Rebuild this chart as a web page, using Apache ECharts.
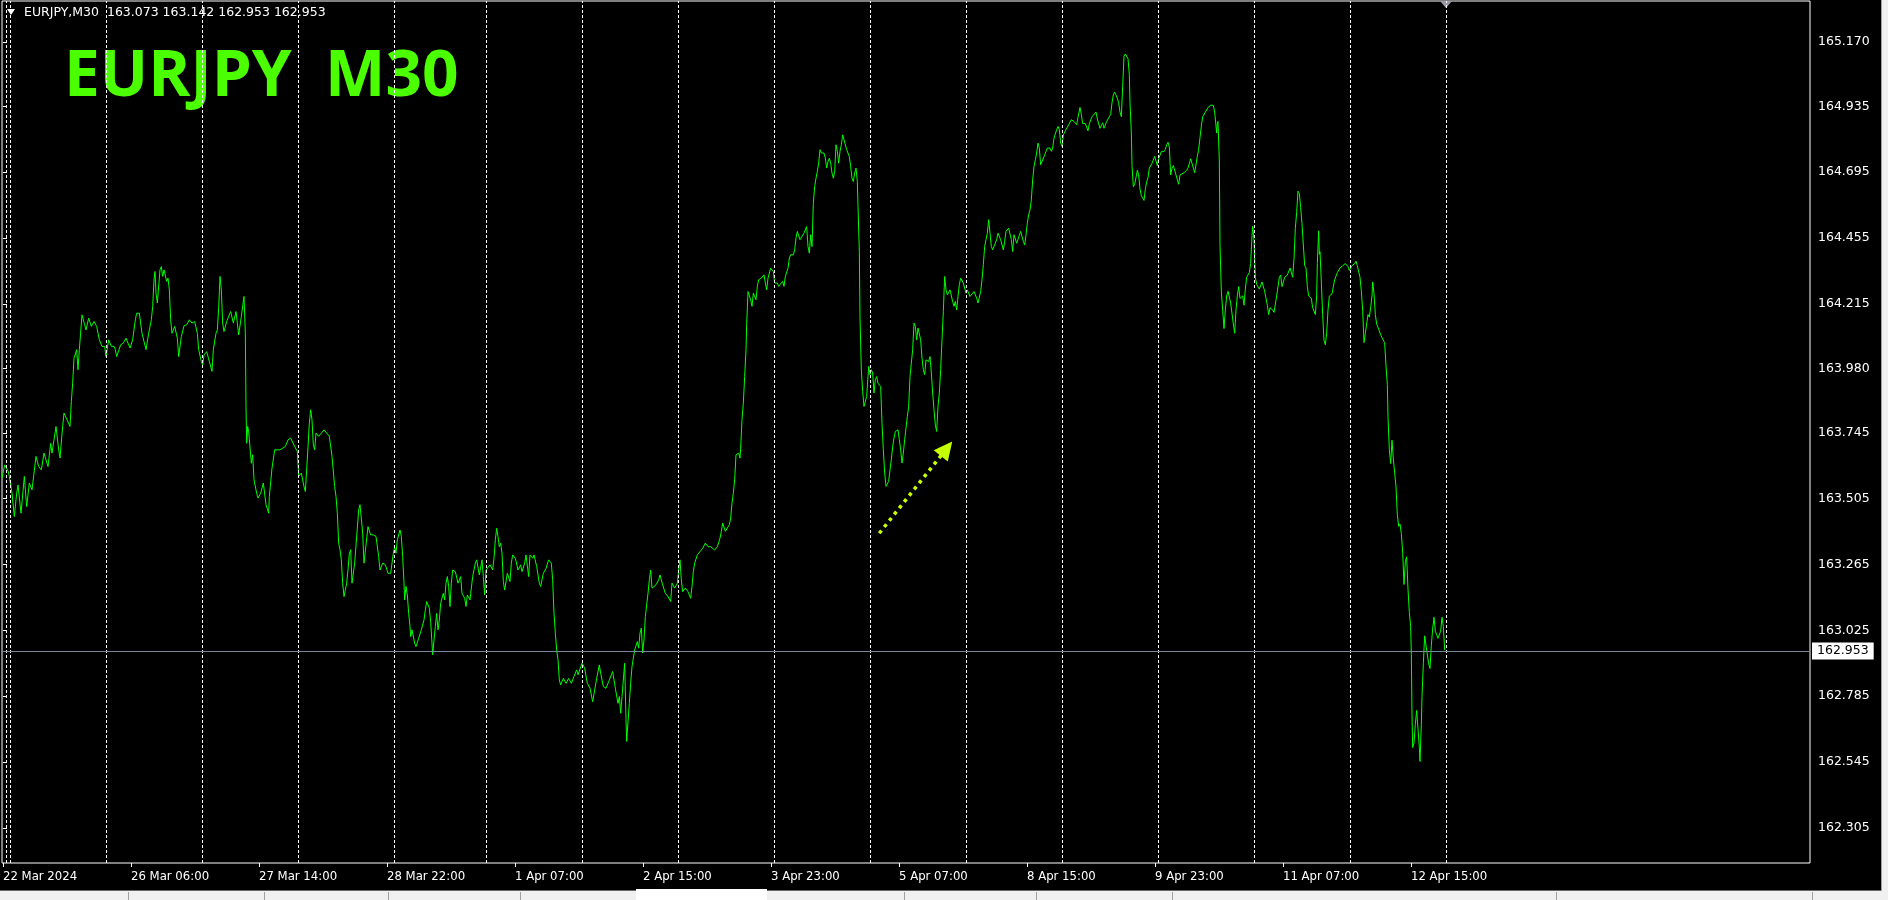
<!DOCTYPE html>
<html>
<head>
<meta charset="utf-8">
<script src="https://cdn.jsdelivr.net/npm/echarts@6/dist/echarts.min.js"></script>
<style>
html,body{margin:0;padding:0;background:#000;}
#c{width:1888px;height:900px;}
</style>
</head>
<body>
<div id="c"></div>
<script>
// ---- data ----
const symbolTitle = 'EURJPY  M30';
const headerText = 'EURJPY,M30  163.073 163.142 162.953 162.953';
const lastPrice = 162.953;

const xLabels = ['22 Mar 2024','26 Mar 06:00','27 Mar 14:00','28 Mar 22:00','1 Apr 07:00','2 Apr 15:00','3 Apr 23:00','5 Apr 07:00','8 Apr 15:00','9 Apr 23:00','11 Apr 07:00','12 Apr 15:00'];
const xLabelBars = [0,64,128,192,256,320,384,448,512,576,640,704];
const yTicks = [165.170,164.935,164.695,164.455,164.215,163.980,163.745,163.505,163.265,163.025,162.785,162.545,162.305];
const separatorBars = [1.75,3.75,51.75,99.75,147.75,195.75,241.75,289.75,337.75,385.75,433.75,481.75,529.75,577.75,625.75,673.75,721.75];
const arrowFrom = [438.15, 163.379];
const arrowTo = [471.75, 163.687];

// bar index (M30 bars from chart start) and close price
const bars = [
-0.5,0.83,2.67,3.17,4.5,5.67,6.83,7.5,9,10.67,11.83,13.17,14.5,16.5,17.83,19.17,20.5,22.5,23.83,24.5,
26.5,27.83,28.5,29.83,30.5,33.5,34.17,34.83,35.5,36.83,37.5,38.17,39.5,40.83,41.5,42.83,44.17,45.5,46.83,48.17,
49.5,50.83,51.5,52.83,54.17,55.5,56.17,56.83,58.83,60.17,61.5,63.5,64.83,66.17,66.83,68.17,69.5,71.5,72.83,74.17,
74.83,75.5,76,76.5,77.17,78.5,79.17,79.83,80.5,81.83,82.5,83.17,83.83,84.5,85.83,87.17,87.83,89.17,90.5,91.83,
93.17,94.5,95.83,97.17,97.83,99.17,99.83,100.5,101.83,103.17,104.5,105.17,106.5,107.17,107.83,108.5,109.17,109.83,110.5,111.83,
113.83,115.17,116.5,117.83,119.17,120.5,121.17,121.5,121.83,122.33,122.83,124.17,124.83,125.5,126.83,127.5,128.83,130.17,130.83,131.5,
132.83,133.17,134.5,135.83,137.17,138.5,139.83,141.17,142.5,143.83,144.5,145.83,147.17,147.83,149.17,150.5,151.17,151.83,152.5,153.17,
153.83,154.5,155.17,155.83,156.5,157.83,159.17,160.5,161.83,163.17,164.5,165.83,166.5,167.17,167.83,168.5,169.17,169.83,170.5,171.83,
172.5,173.17,173.83,174.5,175.83,177.17,177.83,178.5,
179.83,180.5,181.17,182.5,183.83,185.17,186.5,187.83,188.5,189.83,191.17,192.5,193.83,195.17,195.83,196.5,197.17,198.5,199.17,199.83,
200.5,200.83,201.5,202.17,202.83,203.5,203.83,204.5,205.83,206.5,207.83,209.17,210.5,211.17,211.83,213.17,213.83,214.5,214.83,215.5,
216.17,216.83,217.5,218.17,218.83,220.17,220.83,221.5,222.17,222.83,223.5,224.17,224.83,226.17,227.5,228.83,229.5,230.83,231.5,232.17,
233.5,234.83,236.17,236.83,238.17,239.5,240.17,240.83,241.5,243.5,244.83,245.5,246.17,246.83,247.5,248.17,248.83,249.5,250.17,250.83,
252.17,253.5,254.17,254.83,256.17,257.5,258.83,259.5,260.83,261.5,262.83,263.5,264.83,265.5,266.83,268.17,268.83,270.17,271.5,272.83,
274.17,274.83,275.5,276.17,276.83,277.5,278.17,278.83,280.17,281.5,282.83,284.17,285.5,286.83,287.5,289.5,290.83,292.17,293.5,294.83,
295.5,296.83,298.17,298.83,300.17,301.5,302.83,304.17,304.83,306.17,307.5,308.17,308.83,309.5,310.83,311.5,311.83,312.5,313.17,313.83,
314.5,315.83,317.17,317.83,318.5,319.17,319.83,320.5,321.17,322.5,323.17,323.83,324.5,326.5,327.83,328.5,329.83,331.17,332.5,333.83,
334.5,335.83,337.17,337.83,338.5,339.17,339.83,341.17,342.5,343.83,344.5,345.17,345.83,347.17,348.5,349.83,351.17,351.83,352.5,353.83,
354.5,355.83,357.17,357.83,358.5,359.17,359.83,361.17,361.83,363.17,363.83,
364.5,365.17,365.83,366.5,367.83,368.5,368.83,369.5,370.17,370.83,371.5,371.83,372.5,373.83,374.5,375.17,376.5,377.17,377.83,379.17,
380.5,381.17,381.83,382.5,383.83,384.5,385.17,385.83,387.17,387.83,389.83,390.5,391.17,392.5,393.17,393.83,395.17,395.83,396.5,397.17,
398.5,399.17,400.5,401.83,402.5,403.17,403.83,404.5,405.17,405.83,406.5,407.17,407.83,408.5,409.17,409.83,410.5,411.17,411.83,412.5,
413.17,413.83,414.5,415.17,415.83,416.5,417.17,417.83,418.5,419.17,419.83,420.5,421.83,423.17,423.83,424.5,425.17,425.83,426.5,427.17,
427.5,428.17,428.5,429.17,429.83,430.5,431.17,431.83,432.5,432.83,433.5,434.17,434.83,435.5,436.17,436.83,437.5,438.17,438.83,439.5,
440.17,440.83,441.5,442.17,442.83,443.5,444.17,444.83,445.5,446.17,447.5,448.17,448.83,449.5,450.17,450.83,451.5,452.17,452.83,453.5,
454.17,454.83,455.5,456.17,456.83,457.5,458.17,458.83,459.5,460.17,460.83,461.5,462.17,462.83,463.5,464.17,464.83,465.5,466.17,466.83,
467.5,468.17,468.83,469.5,470.17,470.83,471.5,472.17,473.5,474.83,475.5,476.17,476.83,477.5,478.17,478.83,480.17,481.5,482.17,483.5,
485.5,486.83,487.5,488.17,488.83,489.5,490.17,490.83,491.5,492.17,492.83,493.5,494.17,494.83,495.5,496.83,497.5,498.83,500.17,500.83,
501.5,502.83,504.17,504.83,505.5,506.83,508.83,510.17,510.83,511.5,512.17,512.83,513.5,514.17,514.83,515.5,516.17,516.83,517.5,518.17,
518.83,519.5,520.83,522.17,523.5,524.17,524.83,525.5,526.83,527.5,528.17,528.83,529.5,530.17,531.5,532.83,534.17,535.5,536.83,537.5,
538.5,539.17,539.83,541.17,542.5,543.17,544.5,546.5,547.17,548.5,549.83,550.5,551.83,553.17,553.83,554.5,555.17,555.83,557.17,557.83,
558.5,559.17,559.83,560.5,561.17,561.83,562.5,563.17,563.5,564.17,564.5,565.17,565.83,566.5,567.17,567.83,568.5,569.17,570.5,571.17,
571.83,572.5,573.17,574.5,575.83,576.5,577.17,577.83,579.17,580.5,581.17,581.83,582.5,583.17,583.83,584.5,585.17,586.5,587.83,588.5,
590.5,591.83,592.5,593.83,595.17,595.83,597.17,597.83,598.5,599.17,599.83,601.17,602.5,603.83,604.5,605.17,605.83,606.5,606.83,607.17,
607.5,608.17,608.5,609.17,609.83,610.5,611.17,611.83,612.5,613.83,615.17,615.83,616.5,617.17,617.83,618.5,619.83,620.5,621.17,621.83,
623.17,623.83,624.5,624.83,625.5,626.17,626.83,628.17,629.5,630.83,632.17,632.83,633.5,634.83,635.5,636.83,638.17,638.83,639.5,640.83,
642.17,643.5,644.17,644.83,645.5,646.17,646.83,647.5,648.17,648.83,649.5,650.17,650.83,651.5,652.17,652.83,654.17,654.83,656.17,656.83,
657.17,657.83,658.17,658.5,659.17,659.83,660.5,661.17,661.83,662.5,663.17,664.5,665.83,667.17,668.5,669.83,671.17,672.5,673.17,674.5,
675.83,676.5,677.17,678.5,679.17,679.83,680.5,681.17,682.5,683.17,683.83,684.5,684.83,685.5,686.17,686.83,688.17,689.5,690.83,691.5,
692.17,692.5,693.17,693.83,694.5,695.17,695.83,696.5,697.17,697.83,698.5,699.17,699.83,700.5,701.17,701.83,702.5,703.17,703.83,704.17,
704.5,704.83,705.5,706.17,706.83,707.5,708.17,708.5,709.17,709.5,710.17,710.83,711.5,712.83,713.5,714.17,714.83,715.5,716.17,717.5,
718.83,719.5,720.17,720.83
];
const closes = [
163.580,163.628,163.604,163.586,163.525,163.440,163.525,163.555,163.452,163.586,163.476,163.562,163.537,163.659,163.622,163.610,163.671,163.622,163.707,163.671,
163.768,163.683,163.653,163.768,163.817,163.768,163.859,163.926,164.017,164.048,163.975,164.048,164.175,164.139,164.120,164.163,164.133,164.151,164.133,164.084,
164.060,164.060,164.023,164.084,164.060,164.060,164.048,164.023,164.066,164.072,164.090,164.054,164.084,164.157,164.181,164.181,164.108,164.048,164.108,164.157,
164.205,164.303,164.333,164.254,164.218,164.339,164.351,164.315,164.339,164.297,164.309,164.266,164.157,164.108,164.133,164.090,164.023,164.096,164.135,164.139,
164.157,164.145,164.151,164.108,164.048,164.005,163.993,164.029,164.041,164.005,163.969,164.048,164.108,164.120,164.199,164.315,164.266,164.145,164.114,164.151,
164.187,164.145,164.187,164.102,164.169,164.242,164.108,163.841,163.707,163.768,163.750,163.634,163.665,163.574,163.525,163.507,163.525,163.562,163.568,163.483,
163.452,163.513,163.616,163.683,163.683,163.683,163.689,163.695,163.719,163.726,163.732,163.695,163.677,163.586,163.598,163.549,163.531,163.610,163.695,163.780,
163.829,163.792,163.701,163.683,163.744,163.732,163.744,163.756,163.744,163.732,163.659,163.549,163.513,163.452,163.343,163.319,163.282,163.197,163.148,163.197,
163.246,163.306,163.319,163.197,163.270,163.398,163.464,163.483,
163.380,163.270,163.270,163.403,163.373,163.373,163.367,163.294,163.245,163.270,163.264,163.233,163.233,163.306,163.330,163.306,163.355,163.391,163.367,163.294,
163.197,163.136,163.185,163.154,163.087,163.039,163.002,163.027,162.978,162.966,162.996,163.027,163.063,163.100,163.130,163.106,163.057,162.978,162.936,162.990,
163.039,163.087,163.027,163.063,163.124,163.160,163.136,163.197,163.221,163.185,163.112,163.197,163.245,163.239,163.197,163.221,163.160,163.142,163.112,163.154,
163.136,163.221,163.270,163.282,163.227,163.282,163.221,163.154,163.245,163.264,163.245,163.288,163.355,163.397,163.367,163.330,163.343,163.306,163.203,163.172,
163.233,163.203,163.270,163.300,163.288,163.245,163.264,163.239,163.270,163.300,163.221,163.300,163.288,163.300,163.258,163.197,163.185,163.233,163.251,163.282,
163.270,163.209,163.087,163.015,162.954,162.917,162.844,162.826,162.850,162.832,162.850,162.832,162.857,162.881,162.863,162.905,162.887,162.832,162.814,162.765,
162.759,162.850,162.899,162.869,162.820,162.814,162.838,162.863,162.875,162.814,162.759,162.784,162.723,162.784,162.905,162.699,162.620,162.693,162.759,162.832,
162.893,162.954,162.984,162.960,163.015,163.033,162.942,162.990,163.075,163.160,163.209,163.245,163.179,163.191,163.209,163.227,163.191,163.160,163.148,163.130,
163.197,163.179,163.197,163.245,163.282,163.209,163.166,163.179,163.166,163.142,163.185,163.239,163.270,163.300,163.312,163.324,163.343,163.349,163.330,163.330,
163.336,163.318,163.330,163.336,163.361,163.385,163.416,163.386,163.379,163.410,163.434,
163.489,163.525,163.574,163.665,163.671,163.653,163.689,163.793,163.853,163.950,164.048,164.139,164.260,164.230,164.206,164.254,164.230,164.279,164.303,164.309,
164.321,164.291,164.266,164.309,164.345,164.351,164.333,164.291,164.291,164.279,164.297,164.279,164.315,164.345,164.382,164.394,164.394,164.412,164.455,164.479,
164.449,164.443,164.473,164.497,164.424,164.400,164.467,164.424,164.582,164.643,164.673,164.698,164.728,164.777,164.765,164.758,164.765,164.746,164.710,164.734,
164.746,164.728,164.692,164.673,164.698,164.795,164.771,164.728,164.771,164.795,164.831,164.813,164.777,164.752,164.716,164.673,164.661,164.692,164.710,164.661,
164.570,164.406,164.163,163.975,163.896,163.841,163.835,163.878,163.950,163.987,163.957,163.975,163.963,163.890,163.938,163.950,163.926,163.932,163.914,163.780,
163.683,163.598,163.550,163.543,163.568,163.610,163.647,163.695,163.726,163.750,163.756,163.720,163.683,163.635,163.671,163.720,163.762,163.805,163.841,163.950,
163.999,164.048,164.145,164.133,164.084,164.127,164.121,164.084,164.017,163.975,163.957,164.011,164.017,164.005,164.023,163.963,163.890,163.829,163.774,163.750,
163.841,163.890,163.975,164.084,164.187,164.315,164.266,164.248,164.266,164.224,164.206,164.224,164.193,164.242,164.285,164.309,164.291,164.254,164.266,164.242,
164.260,164.236,164.218,164.224,164.260,164.303,164.358,164.424,164.449,164.473,164.522,164.473,164.424,164.412,164.412,164.449,164.473,164.449,164.412,164.443,
164.479,164.491,164.449,164.406,164.467,164.436,164.479,164.443,164.430,164.467,164.509,164.540,164.558,164.594,164.667,164.716,164.740,164.765,164.801,164.783,
164.722,164.716,164.758,164.783,164.783,164.771,164.783,164.819,164.850,164.862,164.850,164.801,164.789,164.831,164.850,164.868,164.886,164.880,164.868,164.895,
164.931,164.906,164.872,164.872,164.846,164.872,164.897,164.914,164.889,164.855,164.875,164.855,164.880,164.897,164.906,164.948,164.977,164.987,164.965,164.948,
164.914,164.897,165.007,165.118,165.126,165.130,165.109,165.050,164.948,164.838,164.719,164.642,164.651,164.676,164.702,164.685,164.634,164.609,164.592,164.634,
164.659,164.676,164.710,164.727,164.753,164.736,164.719,164.744,164.770,164.770,164.778,164.795,164.804,164.787,164.685,164.710,164.719,164.685,164.651,164.685,
164.693,164.702,164.710,164.744,164.710,164.693,164.753,164.778,164.821,164.863,164.897,164.914,164.931,164.939,164.943,164.939,164.914,164.863,164.838,164.872,
164.880,164.736,164.430,164.261,164.193,164.125,164.193,164.244,164.261,164.218,164.142,164.108,164.193,164.244,164.278,164.235,164.244,164.210,164.269,164.312,
164.329,164.362,164.464,164.498,164.447,164.312,164.286,164.269,164.295,164.261,164.210,164.176,164.201,164.193,164.184,164.244,164.312,164.320,164.278,164.312,
164.320,164.346,164.346,164.312,164.379,164.490,164.549,164.626,164.617,164.566,164.507,164.430,164.354,164.346,164.278,164.244,164.235,164.201,164.176,164.244,
164.362,164.481,164.396,164.405,164.295,164.176,164.082,164.066,164.108,164.193,164.244,164.252,164.303,164.329,164.346,164.354,164.362,164.351,164.337,164.354,
164.362,164.371,164.354,164.312,164.261,164.193,164.074,164.108,164.176,164.167,164.201,164.244,164.295,164.252,164.176,164.142,164.116,164.091,164.074,163.989,
163.921,163.802,163.684,163.633,163.718,163.650,163.599,163.548,163.446,163.404,163.412,163.378,163.310,163.192,163.276,163.293,163.175,163.090,163.039,162.937,
162.716,162.598,162.615,162.682,162.733,162.665,162.598,162.547,162.682,162.784,162.903,163.005,162.971,162.903,162.886,162.971,163.030,163.073,163.022,162.996,
163.022,163.073,163.039,162.953
];

// ---- chart ----
const chart = echarts.init(document.getElementById('c'), null, {renderer: 'canvas'});
const lineData = bars.map((b, i) => [b, closes[i]]);
const yFont = 'DejaVu Sans';
const xFont = "'DejaVu Sans Condensed', 'Liberation Sans Narrow', 'DejaVu Sans'";

chart.setOption({
  backgroundColor: '#000',
  animation: false,
  grid: {left: 2, top: 1, right: 78, bottom: 37, show: true, borderColor: '#ffffff', borderWidth: 1, backgroundColor: 'transparent'},
  xAxis: {
    type: 'value', min: -0.5, max: 903.5,
    axisLine: {show: false},
    splitLine: {show: false},
    axisTick: {show: true, customValues: xLabelBars, length: 4, lineStyle: {color: '#ffffff'}},
    axisLabel: {
      show: true, customValues: xLabelBars, margin: 7, color: '#ffffff',
      fontFamily: xFont, fontSize: 13, align: 'left',
      formatter: v => xLabels[xLabelBars.indexOf(v)] || ''
    }
  },
  yAxis: {
    type: 'value', position: 'right', min: 162.177, max: 165.319, scale: true,
    axisLine: {show: false},
    splitLine: {show: false},
    axisTick: {show: true, customValues: yTicks, length: 4, lineStyle: {color: '#ffffff'}},
    axisLabel: {
      show: true, customValues: yTicks, margin: 8, color: '#ffffff',
      fontFamily: yFont, fontSize: 12.5,
      formatter: v => Number(v).toFixed(3)
    }
  },
  series: [
    {
      type: 'line', name: 'separators', data: [], silent: true, z: 1,
      markLine: {
        silent: true, symbol: ['none', 'none'], label: {show: false},
        lineStyle: {color: '#ffffff', width: 1, type: [3, 2]},
        data: separatorBars.map(b => ({xAxis: b}))
      }
    },
    {
      type: 'line', name: 'price', data: [], silent: true, z: 2,
      markLine: {
        silent: true, symbol: ['none', 'none'],
        lineStyle: {color: '#778899', width: 1, type: 'solid'},
        label: {
          show: true, position: 'end', distance: 2, formatter: () => lastPrice.toFixed(3),
          color: '#000', backgroundColor: '#ffffff', padding: [2, 5, 2, 5],
          fontFamily: yFont, fontSize: 12.5
        },
        data: [{yAxis: lastPrice}]
      }
    },
    {
      type: 'line', name: 'EURJPY', data: lineData, z: 3,
      showSymbol: false, symbol: 'none', silent: true,
      lineStyle: {color: '#00ff00', width: 1},
      markLine: {
        silent: true, z: 5,
        label: {show: false},
        lineStyle: {color: '#c6ff00', width: 3.5, type: [3.5, 4.5], cap: 'butt', opacity: 1},
        data: [[
          {coord: arrowFrom, symbol: 'none'},
          {coord: arrowTo, symbol: 'triangle', symbolSize: [18, 18.5]}
        ]]
      }
    }
  ],
  graphic: [
    {type: 'polygon', shape: {points: [[7, 9], [15, 9], [11, 15]]}, style: {fill: '#ffffff'}, silent: true},
    {type: 'text', x: 24, y: 13, silent: true,
      style: {text: headerText, fill: '#ffffff', fontFamily: yFont, fontSize: 12.5, verticalAlign: 'middle', align: 'left'}},
    {type: 'text', x: 64, y: 78, silent: true,
      style: {text: symbolTitle, fill: '#4cff00', fontFamily: 'Open Sans', fontWeight: 'bold', fontSize: 64, verticalAlign: 'middle', align: 'left'}},
    {type: 'polygon', shape: {points: [[1440, 1], [1452, 1], [1446, 8]]}, style: {fill: '#9a9aa8'}, silent: true},
    // window frame / tab strip
    {type: 'rect', shape: {x: 0, y: 890, width: 1888, height: 10}, style: {fill: '#f0f0f0'}, silent: true},
    {type: 'rect', shape: {x: 0, y: 890, width: 636, height: 1}, style: {fill: '#696969'}, silent: true},
    {type: 'rect', shape: {x: 767, y: 890, width: 1121, height: 1}, style: {fill: '#696969'}, silent: true},
    {type: 'rect', shape: {x: 636, y: 889, width: 131, height: 11}, style: {fill: '#ffffff'}, silent: true},
    {type: 'rect', shape: {x: 1882, y: 0, width: 6, height: 900}, style: {fill: '#f0f0f0'}, silent: true},
    {type: 'rect', shape: {x: 1881, y: 0, width: 1, height: 891}, style: {fill: '#a0a0a0'}, silent: true}
  ].concat([128, 264, 388, 520, 904, 1036, 1172, 1556, 1812].map(x => ({
    type: 'rect', shape: {x: x, y: 892, width: 1, height: 8}, style: {fill: '#a0a0a0'}, silent: true
  })))
});
</script>
</body>
</html>
